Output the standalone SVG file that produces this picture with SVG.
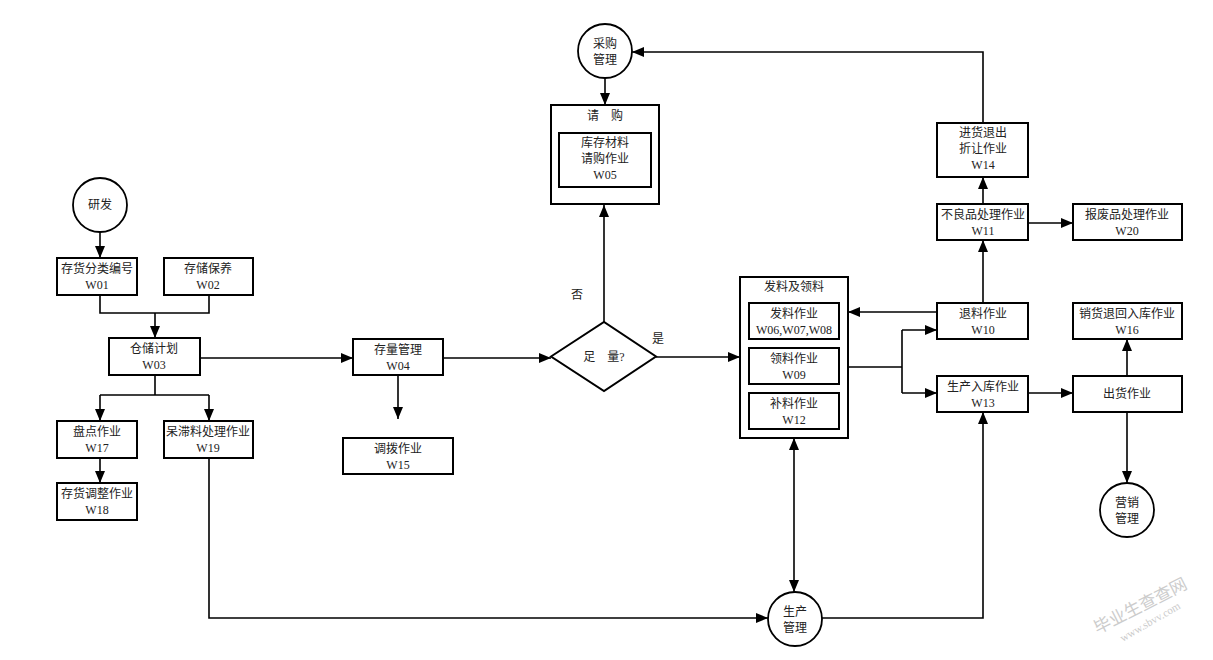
<svg xmlns="http://www.w3.org/2000/svg" width="1213" height="660" viewBox="0 0 1213 660">
<style>
.box{fill:#fff;stroke:#000;stroke-width:2}
.c{fill:#fff;stroke:#000;stroke-width:1.8}
.t{font-family:"Liberation Serif","Noto Sans CJK SC",serif;font-size:12px;fill:#222;text-anchor:middle}
.ln{fill:none;stroke:#000;stroke-width:1.6}
.a{marker-end:url(#ah)}
.wm{font-family:"Liberation Serif","Noto Sans CJK SC",serif;fill:#ccc;text-anchor:middle}
</style>
<defs>
<marker id="ah" markerUnits="userSpaceOnUse" markerWidth="12" markerHeight="10" refX="12" refY="5" orient="auto-start-reverse"><path d="M0,0 L12,5 L0,10 z" fill="#000"/></marker>
</defs>
<rect width="1213" height="660" fill="#fff"/>
<g id="connectors">
<path class="ln a" d="M100,232 V258"/>
<path class="ln" d="M100,295 V313 H209 V295"/>
<path class="ln a" d="M155,313 V338"/>
<path class="ln a" d="M200,358 H353"/>
<path class="ln" d="M155,375 V395 M100,395 H209"/>
<path class="ln a" d="M100,395 V421"/>
<path class="ln a" d="M209,395 V421"/>
<path class="ln a" d="M100,458 V483"/>
<path class="ln a" d="M209,458 V618 H768"/>
<path class="ln a" d="M398,375 V419"/>
<path class="ln a" d="M443,358 H551"/>
<path class="ln a" d="M604,322 V205"/>
<path class="ln a" d="M656,357 H740"/>
<path class="ln a" d="M605,78 V105"/>
<path class="ln a" d="M983,123 V52 H632"/>
<path class="ln a" d="M983,204 V177"/>
<path class="ln a" d="M1028,223 H1073"/>
<path class="ln a" d="M983,303 V240"/>
<path class="ln a" d="M937,312 H848"/>
<path class="ln" d="M848,367 H902 M902,330 V393"/>
<path class="ln a" d="M902,330 H937"/>
<path class="ln a" d="M902,393 H937"/>
<path class="ln a" d="M1028,393 H1073"/>
<path class="ln a" d="M1127,376 V339"/>
<path class="ln a" d="M1127,412 V483"/>
<path class="ln a" d="M794,438 V592" marker-start="url(#ah)"/>
<path class="ln a" d="M822,618 H983 V412"/>
</g>
<g id="n-yanfa"><circle class="c" cx="100" cy="205" r="27"/><text class="t" x="100" y="209">研发</text></g>
<g id="n-w01"><rect class="box" x="57" y="258" width="80" height="37"/><text class="t" x="97" y="273">存货分类编号</text><text class="t" x="97" y="289">W01</text></g>
<g id="n-w02"><rect class="box" x="164" y="258" width="89" height="37"/><text class="t" x="208" y="273">存储保养</text><text class="t" x="208" y="289">W02</text></g>
<g id="n-w03"><rect class="box" x="109" y="338" width="91" height="37"/><text class="t" x="154" y="353">仓储计划</text><text class="t" x="154" y="369">W03</text></g>
<g id="n-w17"><rect class="box" x="57" y="421" width="80" height="37"/><text class="t" x="97" y="436">盘点作业</text><text class="t" x="97" y="452">W17</text></g>
<g id="n-w19"><rect class="box" x="164" y="421" width="89" height="37"/><text class="t" x="208" y="436">呆滞料处理作业</text><text class="t" x="208" y="452">W19</text></g>
<g id="n-w18"><rect class="box" x="57" y="483" width="80" height="37"/><text class="t" x="97" y="498">存货调整作业</text><text class="t" x="97" y="514">W18</text></g>
<g id="n-w04"><rect class="box" x="353" y="339" width="90" height="36"/><text class="t" x="398" y="354">存量管理</text><text class="t" x="398" y="370">W04</text></g>
<g id="n-w15"><rect class="box" x="343" y="438" width="110" height="36"/><text class="t" x="398" y="453">调拨作业</text><text class="t" x="398" y="469">W15</text></g>
<g id="n-decision"><path class="box" d="M551,356.5 L604,322 L656,356.5 L604,391 z"/><text class="t" x="604" y="361">足　量?</text></g>
<text class="t" x="577" y="299">否</text>
<text class="t" x="658" y="343">是</text>
<g id="n-caigou"><circle class="c" cx="605" cy="51" r="27"/><text class="t" x="605" y="48">采购</text><text class="t" x="605" y="64">管理</text></g>
<g id="n-qinggou"><rect class="box" x="551" y="105" width="108" height="99"/><text class="t" x="605" y="120">请　购</text><rect class="box" x="559" y="133" width="92" height="54"/><text class="t" x="605" y="147">库存材料</text><text class="t" x="605" y="163">请购作业</text><text class="t" x="605" y="179">W05</text></g>
<g id="n-faliao"><rect class="box" x="740" y="277" width="108" height="161"/><text class="t" x="794" y="291">发料及领料</text>
<rect class="box" x="749" y="303" width="90" height="36"/><text class="t" x="794" y="318">发料作业</text><text class="t" x="794" y="334">W06,W07,W08</text>
<rect class="box" x="749" y="348" width="90" height="36"/><text class="t" x="794" y="363">领料作业</text><text class="t" x="794" y="379">W09</text>
<rect class="box" x="749" y="393" width="90" height="36"/><text class="t" x="794" y="408">补料作业</text><text class="t" x="794" y="424">W12</text></g>
<g id="n-w14"><rect class="box" x="937" y="123" width="91" height="54"/><text class="t" x="983" y="137">进货退出</text><text class="t" x="983" y="153">折让作业</text><text class="t" x="983" y="169">W14</text></g>
<g id="n-w11"><rect class="box" x="937" y="204" width="91" height="36"/><text class="t" x="983" y="219">不良品处理作业</text><text class="t" x="983" y="235">W11</text></g>
<g id="n-w20"><rect class="box" x="1073" y="204" width="109" height="36"/><text class="t" x="1127" y="219">报废品处理作业</text><text class="t" x="1127" y="235">W20</text></g>
<g id="n-w10"><rect class="box" x="937" y="303" width="91" height="36"/><text class="t" x="983" y="318">退料作业</text><text class="t" x="983" y="334">W10</text></g>
<g id="n-w16"><rect class="box" x="1073" y="303" width="109" height="36"/><text class="t" x="1127" y="318">销货退回入库作业</text><text class="t" x="1127" y="334">W16</text></g>
<g id="n-w13"><rect class="box" x="937" y="376" width="91" height="36"/><text class="t" x="983" y="391">生产入库作业</text><text class="t" x="983" y="407">W13</text></g>
<g id="n-chuhuo"><rect class="box" x="1073" y="376" width="109" height="36"/><text class="t" x="1127" y="398">出货作业</text></g>
<g id="n-yingxiao"><circle class="c" cx="1127" cy="510" r="27"/><text class="t" x="1127" y="507">营销</text><text class="t" x="1127" y="523">管理</text></g>
<g id="n-shengchan"><circle class="c" cx="795" cy="619" r="27"/><text class="t" x="795" y="616">生产</text><text class="t" x="795" y="632">管理</text></g>
<g id="watermark">
<text class="wm" font-size="17" transform="translate(1143,611) rotate(-27)">毕业生查查网</text>
<text class="wm" font-size="11" transform="translate(1152,625) rotate(-30)">www.sbvv.com</text>
</g>
</svg>
